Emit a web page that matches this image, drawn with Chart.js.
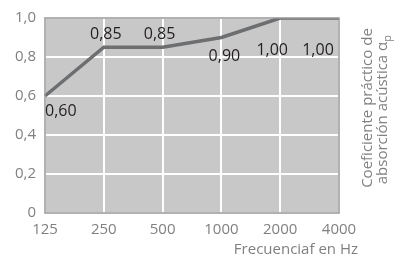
<!DOCTYPE html>
<html lang="es">
<head>
<meta charset="utf-8">
<title>Coeficiente práctico de absorción acústica</title>
<script src="https://cdn.jsdelivr.net/npm/chart.js@4/dist/chart.umd.min.js"></script>
<style>
  html, body { margin: 0; padding: 0; background: #fff; }
  #wrap { width: 395px; height: 260px; position: relative; }
</style>
</head>
<body>
<div id="wrap"><canvas id="chart"></canvas></div>
<script>
// ---------- datos ----------
const frecuencias = ['125', '250', '500', '1000', '2000', '4000'];
const coeficientes = [0.60, 0.85, 0.85, 0.90, 1.00, 1.00];
const etiquetas = ['0,60', '0,85', '0,85', '0,90', '1,00', '1,00'];
const ticksY = [0, 0.2, 0.4, 0.6, 0.8, 1.0];

const FONT = '"Open Sans", "Noto Sans", sans-serif';
const GRIS_TEXTO = '#808082';

// desplazamiento de cada etiqueta respecto a su punto (px)
const offsets = [
  { dx: 0, dy: 15, align: 'left' },
  { dx: 2, dy: -13, align: 'center' },
  { dx: -3, dy: -13, align: 'center' },
  { dx: 3, dy: 19, align: 'center' },
  { dx: -8, dy: 32, align: 'center' },
  { dx: -21, dy: 32, align: 'center' },
];

// fondo gris y marco del área del gráfico
const areaPlugin = {
  id: 'area',
  beforeDraw(chart) {
    const { ctx, chartArea: a } = chart;
    ctx.save();
    ctx.fillStyle = '#c8c8c9';
    ctx.fillRect(a.left, a.top, a.right - a.left, a.bottom - a.top);
    ctx.restore();
  },
  afterDatasetsDraw(chart) {
    const { ctx, chartArea: a } = chart;
    ctx.save();
    ctx.strokeStyle = '#98989a';
    ctx.lineWidth = 1.5;
    ctx.strokeRect(a.left, a.top, a.right - a.left, a.bottom - a.top);
    ctx.restore();
  },
};

// etiquetas de valores + títulos de ejes
const textosPlugin = {
  id: 'textos',
  afterDraw(chart) {
    const { ctx } = chart;
    const meta = chart.getDatasetMeta(0);
    ctx.save();
    ctx.fillStyle = '#231f20';
    ctx.font = '16px ' + FONT;
    ctx.textBaseline = 'middle';
    meta.data.forEach((pt, i) => {
      const o = offsets[i];
      ctx.textAlign = o.align;
      ctx.fillText(etiquetas[i], pt.x + o.dx, pt.y + o.dy);
    });

    // título eje x
    ctx.fillStyle = GRIS_TEXTO;
    ctx.font = '15px ' + FONT;
    ctx.textAlign = 'right';
    ctx.fillText('Frecuenciaf en Hz', 358, 250);

    // título eje y (a la derecha, girado)
    ctx.translate(375, 110);
    ctx.rotate(-Math.PI / 2);
    ctx.textAlign = 'center';
    ctx.fillText('Coeficiente práctico de', 2, -7);
    const linea2 = 'absorción acústica α';
    const w = ctx.measureText(linea2).width;
    ctx.fillText(linea2, -3, 8);
    ctx.font = '11px ' + FONT;
    ctx.textAlign = 'left';
    ctx.fillText('p', -3 + w / 2, 13);
    ctx.restore();
  },
};

new Chart(document.getElementById('chart'), {
  type: 'line',
  data: {
    labels: frecuencias,
    datasets: [
      {
        data: coeficientes,
        borderColor: '#6d6e70',
        borderWidth: 3.5,
        pointRadius: 0,
        tension: 0,
        fill: false,
      },
    ],
  },
  options: {
    responsive: true,
    maintainAspectRatio: false,
    animation: false,
    layout: { padding: { top: 17, right: 56, bottom: 0, left: 0 } },
    plugins: { legend: { display: false }, tooltip: { enabled: false } },
    scales: {
      x: {
        offset: false,
        grid: { color: '#ffffff', lineWidth: 2, drawTicks: false },
        border: { display: false },
        ticks: { color: GRIS_TEXTO, font: { family: FONT, size: 15 }, padding: 8, maxRotation: 0 },
        afterFit: (s) => { s.height = 47; },
      },
      y: {
        min: 0,
        max: 1,
        afterBuildTicks: (s) => { s.ticks = ticksY.map((v) => ({ value: v })); },
        grid: { color: '#ffffff', lineWidth: 2, drawTicks: false },
        border: { display: false },
        ticks: {
          color: GRIS_TEXTO,
          font: { family: FONT, size: 15 },
          padding: 9,
          callback: (v) => (v === 0 ? '0' : v.toFixed(1).replace('.', ',')),
        },
        afterFit: (s) => { s.width = 45; },
      },
    },
  },
  plugins: [areaPlugin, textosPlugin],
});
</script>
</body>
</html>
